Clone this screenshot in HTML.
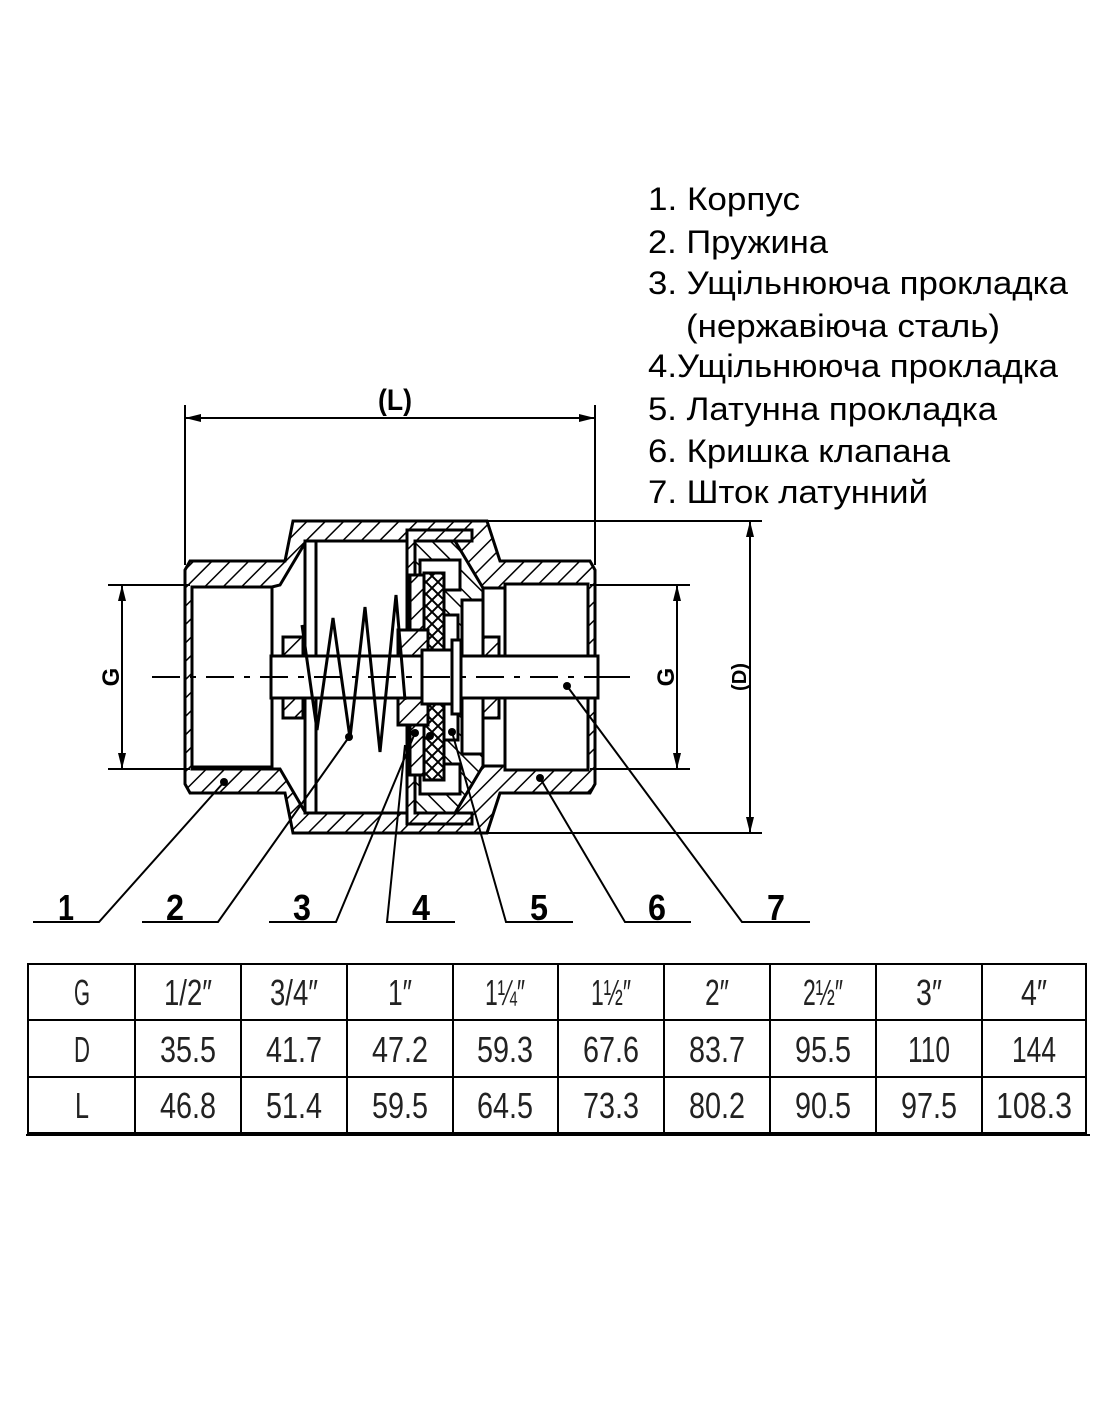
<!DOCTYPE html>
<html><head><meta charset="utf-8"><style>
html,body{margin:0;padding:0;background:#fff}
svg{display:block}
</style></head><body>
<svg width="1100" height="1422" viewBox="0 0 1100 1422" xmlns="http://www.w3.org/2000/svg">
<defs>
<pattern id="h" patternUnits="userSpaceOnUse" width="13" height="13" patternTransform="rotate(45)">
<rect width="13" height="13" fill="#fff"/><line x1="0" y1="0" x2="0" y2="13" stroke="#000" stroke-width="3"/>
</pattern>
<pattern id="hr" patternUnits="userSpaceOnUse" width="13" height="13" patternTransform="rotate(-45)">
<rect width="13" height="13" fill="#fff"/><line x1="0" y1="0" x2="0" y2="13" stroke="#000" stroke-width="3"/>
</pattern>
<pattern id="x" patternUnits="userSpaceOnUse" width="12" height="12">
<rect width="12" height="12" fill="#fff"/><path d="M0 0L12 12M12 0L0 12" stroke="#000" stroke-width="2"/>
</pattern>
</defs>
<g font-family="Liberation Sans, sans-serif" font-size="32" fill="#000" lengthAdjust="spacingAndGlyphs">
<text x="648" y="210" textLength="152" lengthAdjust="spacingAndGlyphs">1. Корпус</text>
<text x="648" y="253" textLength="180" lengthAdjust="spacingAndGlyphs">2. Пружина</text>
<text x="648" y="294" textLength="420" lengthAdjust="spacingAndGlyphs">3. Ущільнююча прокладка</text>
<text x="686" y="337" textLength="314" lengthAdjust="spacingAndGlyphs">(нержавіюча сталь)</text>
<text x="648" y="377" textLength="410" lengthAdjust="spacingAndGlyphs">4.Ущільнююча прокладка</text>
<text x="648" y="420" textLength="349" lengthAdjust="spacingAndGlyphs">5. Латунна прокладка</text>
<text x="648" y="462" textLength="302" lengthAdjust="spacingAndGlyphs">6. Кришка клапана</text>
<text x="648" y="503" textLength="280" lengthAdjust="spacingAndGlyphs">7. Шток латунний</text>
</g>
<g stroke="#000" stroke-width="3" fill="none">
<path d="M190 561H285L293 521H487L500 561H590L595 570V784L590 793H500L487 833H293L285 793H190L185 784V570Z" fill="url(#h)"/>
<path d="M192 587H272L280 585L305 543H407V812H305L280 769H192Z" fill="#fff"/>
<rect x="192" y="587" width="80" height="180" fill="#fff"/>
<line x1="272" y1="587" x2="272" y2="767"/>
<rect x="305" y="541" width="102" height="272" fill="#fff"/>
<line x1="316" y1="541" x2="316" y2="813"/>
<path d="M483 588H505V584H588V770H505V766H483Z" fill="#fff"/>
<line x1="505" y1="588" x2="505" y2="766"/>
<path d="M407 530H472V541H415V813H472V824H407Z" fill="url(#h)"/>
<path d="M415 541H455L483 588V766L455 813H415Z" fill="url(#hr)"/>
<rect x="420" y="560" width="40" height="30" fill="#fff"/>
<rect x="420" y="764" width="40" height="30" fill="#fff"/>
<rect x="462" y="600" width="21" height="56" fill="#fff"/>
<rect x="462" y="698" width="21" height="56" fill="#fff"/>
<rect x="410" y="575" width="14" height="200" fill="url(#h)"/>
<rect x="424" y="573" width="20" height="207" fill="url(#x)"/>
<rect x="444" y="615" width="14" height="125" fill="#fff"/>
<rect x="398" y="630" width="30" height="95" fill="url(#h)"/>
<rect x="283" y="637" width="20" height="20" fill="url(#h)"/>
<rect x="283" y="698" width="20" height="20" fill="url(#h)"/>
<rect x="483" y="637" width="16" height="20" fill="url(#h)"/>
<rect x="483" y="698" width="16" height="20" fill="url(#h)"/>
<rect x="271" y="656" width="327" height="42" fill="#fff"/>
<rect x="422" y="650" width="32" height="54" fill="#fff"/>
<rect x="452" y="640" width="9" height="74" fill="#fff"/>
<polyline points="302,625 317,730 333,618 350,738 365,607 380,752 396,595 405,700"/>
</g>
<line x1="152" y1="677" x2="600" y2="677" stroke="#000" stroke-width="2" stroke-dasharray="28,10,6,10"/>
<line x1="600" y1="677" x2="630" y2="677" stroke="#000" stroke-width="2"/>
<g stroke="#000" stroke-width="2" fill="none">
<line x1="185" y1="405" x2="185" y2="565"/>
<line x1="595" y1="405" x2="595" y2="565"/>
<line x1="185" y1="418" x2="595" y2="418"/>
<line x1="108" y1="585" x2="190" y2="585"/>
<line x1="108" y1="769" x2="190" y2="769"/>
<line x1="122" y1="585" x2="122" y2="769"/>
<line x1="590" y1="585" x2="690" y2="585"/>
<line x1="590" y1="769" x2="690" y2="769"/>
<line x1="677" y1="585" x2="677" y2="769"/>
<line x1="472" y1="521" x2="762" y2="521"/>
<line x1="472" y1="833" x2="762" y2="833"/>
<line x1="750" y1="521" x2="750" y2="833"/>
</g>
<g fill="#000">
<path d="M185 418l16 -4v8z"/><path d="M595 418l-16 -4v8z"/>
<path d="M122 585l-4 16h8z"/><path d="M122 769l-4 -16h8z"/>
<path d="M677 585l-4 16h8z"/><path d="M677 769l-4 -16h8z"/>
<path d="M750 521l-4 16h8z"/><path d="M750 833l-4 -16h8z"/>
</g>
<g font-family="Liberation Sans, sans-serif" fill="#000" font-weight="bold">
<text x="395" y="410" font-size="30" text-anchor="middle" textLength="34" lengthAdjust="spacingAndGlyphs">(L)</text>
<text transform="translate(119,677) rotate(-90)" font-size="24" text-anchor="middle">G</text>
<text transform="translate(674,677) rotate(-90)" font-size="24" text-anchor="middle">G</text>
<text transform="translate(746,677) rotate(-90)" font-size="20" text-anchor="middle" textLength="28" lengthAdjust="spacingAndGlyphs">(D)</text>
</g>
<g stroke="#000" stroke-width="2" fill="none">
<path d="M33 922H99L224 782"/>
<path d="M142 922H218L349 737"/>
<path d="M269 922H336L415 733"/>
<path d="M455 922H387L405 745"/>
<path d="M573 922H506L452 732"/>
<path d="M691 922H625L540 778"/>
<path d="M810 922H742L567 686"/>
</g>
<g fill="#000">
<circle cx="224" cy="782" r="4"/><circle cx="349" cy="737" r="4"/><circle cx="415" cy="733" r="4"/>
<circle cx="430" cy="736" r="4"/><circle cx="452" cy="732" r="4"/><circle cx="540" cy="778" r="4"/><circle cx="567" cy="686" r="4"/>
</g>
<g font-family="Liberation Sans, sans-serif" font-size="36" font-weight="bold" fill="#000" text-anchor="middle">
<text x="66" y="920" textLength="16" lengthAdjust="spacingAndGlyphs">1</text><text x="175" y="920" textLength="18" lengthAdjust="spacingAndGlyphs">2</text><text x="302" y="920" textLength="18" lengthAdjust="spacingAndGlyphs">3</text><text x="421" y="920" textLength="18" lengthAdjust="spacingAndGlyphs">4</text>
<text x="539" y="920" textLength="18" lengthAdjust="spacingAndGlyphs">5</text><text x="657" y="920" textLength="18" lengthAdjust="spacingAndGlyphs">6</text><text x="776" y="920" textLength="18" lengthAdjust="spacingAndGlyphs">7</text>
</g>
<g stroke="#000" stroke-width="2" fill="none">
<rect x="28" y="964" width="1058" height="169"/>
<line x1="28" y1="1020" x2="1086" y2="1020"/>
<line x1="28" y1="1077" x2="1086" y2="1077"/>
<line x1="135" y1="964" x2="135" y2="1133"/><line x1="241" y1="964" x2="241" y2="1133"/>
<line x1="347" y1="964" x2="347" y2="1133"/><line x1="453" y1="964" x2="453" y2="1133"/>
<line x1="558" y1="964" x2="558" y2="1133"/><line x1="664" y1="964" x2="664" y2="1133"/>
<line x1="770" y1="964" x2="770" y2="1133"/><line x1="876" y1="964" x2="876" y2="1133"/>
<line x1="982" y1="964" x2="982" y2="1133"/>
<line x1="26" y1="1135" x2="1090" y2="1135"/>
</g>
<g font-family="Liberation Sans, sans-serif" font-size="36" fill="#222" text-anchor="middle">
<text x="82" y="1005" textLength="16" lengthAdjust="spacingAndGlyphs">G</text><text x="188" y="1005" textLength="48" lengthAdjust="spacingAndGlyphs">1/2″</text><text x="294" y="1005" textLength="48" lengthAdjust="spacingAndGlyphs">3/4″</text><text x="400" y="1005" textLength="24" lengthAdjust="spacingAndGlyphs">1″</text>
<text x="505" y="1005" textLength="40" lengthAdjust="spacingAndGlyphs">1¼″</text><text x="611" y="1005" textLength="40" lengthAdjust="spacingAndGlyphs">1½″</text><text x="717" y="1005" textLength="24" lengthAdjust="spacingAndGlyphs">2″</text><text x="823" y="1005" textLength="40" lengthAdjust="spacingAndGlyphs">2½″</text>
<text x="929" y="1005" textLength="26" lengthAdjust="spacingAndGlyphs">3″</text><text x="1034" y="1005" textLength="26" lengthAdjust="spacingAndGlyphs">4″</text>
<text x="82" y="1062" textLength="16" lengthAdjust="spacingAndGlyphs">D</text><text x="188" y="1062" textLength="56" lengthAdjust="spacingAndGlyphs">35.5</text><text x="294" y="1062" textLength="56" lengthAdjust="spacingAndGlyphs">41.7</text><text x="400" y="1062" textLength="56" lengthAdjust="spacingAndGlyphs">47.2</text>
<text x="505" y="1062" textLength="56" lengthAdjust="spacingAndGlyphs">59.3</text><text x="611" y="1062" textLength="56" lengthAdjust="spacingAndGlyphs">67.6</text><text x="717" y="1062" textLength="56" lengthAdjust="spacingAndGlyphs">83.7</text><text x="823" y="1062" textLength="56" lengthAdjust="spacingAndGlyphs">95.5</text>
<text x="929" y="1062" textLength="42" lengthAdjust="spacingAndGlyphs">110</text><text x="1034" y="1062" textLength="44" lengthAdjust="spacingAndGlyphs">144</text>
<text x="82" y="1118" textLength="14" lengthAdjust="spacingAndGlyphs">L</text><text x="188" y="1118" textLength="56" lengthAdjust="spacingAndGlyphs">46.8</text><text x="294" y="1118" textLength="56" lengthAdjust="spacingAndGlyphs">51.4</text><text x="400" y="1118" textLength="56" lengthAdjust="spacingAndGlyphs">59.5</text>
<text x="505" y="1118" textLength="56" lengthAdjust="spacingAndGlyphs">64.5</text><text x="611" y="1118" textLength="56" lengthAdjust="spacingAndGlyphs">73.3</text><text x="717" y="1118" textLength="56" lengthAdjust="spacingAndGlyphs">80.2</text><text x="823" y="1118" textLength="56" lengthAdjust="spacingAndGlyphs">90.5</text>
<text x="929" y="1118" textLength="56" lengthAdjust="spacingAndGlyphs">97.5</text><text x="1034" y="1118" textLength="76" lengthAdjust="spacingAndGlyphs">108.3</text>
</g>
</svg>
</body></html>
